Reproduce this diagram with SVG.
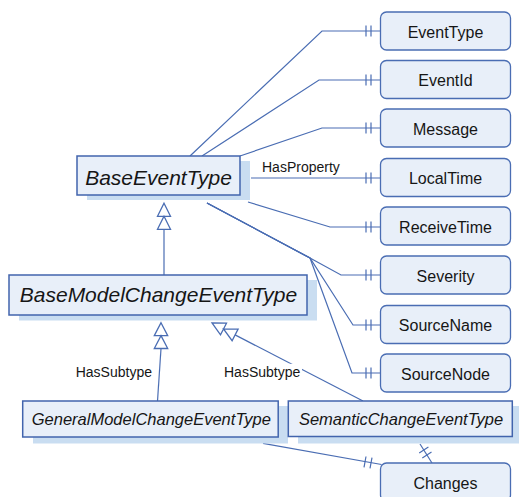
<svg xmlns="http://www.w3.org/2000/svg" width="519" height="497" viewBox="0 0 519 497">
<style>
.shadow{fill:#c9ddf1;stroke:none}
.type{fill:#e8eff9;stroke:#4264ad;stroke-width:1.5}
.prop{fill:#e8eff9;stroke:#4a6db3;stroke-width:1.3}
.t{font-family:"Liberation Sans",Arial,sans-serif;fill:#161616;text-anchor:middle}
.ti{font-style:italic}
.lbl{font-family:"Liberation Sans",Arial,sans-serif;font-size:14px;fill:#161616}
.c{fill:none;stroke:#4a6db3;stroke-width:1.2}
.gen{fill:#fff;stroke:#4a6db3;stroke-width:1.3}
</style>
<rect width="519" height="497" fill="#fff"/>
<g id="connectors">
  <polyline class="c" points="190,156 322,31 380,31"/>
  <polyline class="c" points="202,156 319,80 380,80"/>
  <polyline class="c" points="240,156 322,128 380,128"/>
  <polyline class="c" points="251,178 380,178"/>
  <polyline class="c" points="248,202 330,227 380,227"/>
  <polyline class="c" points="207,203 310,258 341,275 380,275"/>
  <polyline class="c" points="207,203 310,258 353,325 380,325"/>
  <polyline class="c" points="207,203 310,258 352,373 380,373"/>
  <path class="c" d="M366,25.5v11M371,25.5v11M366,74.5v11M371,74.5v11M366,122.5v11M371,122.5v11M366,172.5v11M371,172.5v11M366,221.5v11M371,221.5v11M366,269.5v11M371,269.5v11M366,319.5v11M371,319.5v11M366,367.5v11M371,367.5v11"/>
  <polyline class="c" points="263,443.3 381.5,464.5"/>
  <path class="c" d="M366,456.5L364,467.3M372,457.6L370,468.4"/>
  <polyline class="c" points="420,444 432,463"/>
  <path class="c" d="M419.2,452.9L428.4,447.1M422.3,457.9L431.5,452.1"/>
  <line class="c" x1="164" y1="229.3" x2="164" y2="275" stroke-width="1.6"/>
  <path class="gen" d="M164,203.3L170.5,216.3L157.5,216.3ZM164,216.3L170.5,229.3L157.5,229.3Z"/>
  <line class="c" x1="161" y1="348.5" x2="157.5" y2="401" stroke-width="1.5"/>
  <path class="gen" d="M161,322.7L167.7,335.6L154.3,335.6ZM161,335.6L167.7,348.5L154.3,348.5Z"/>
  <line class="c" x1="235.1" y1="334.9" x2="363" y2="401"/>
  <path class="gen" d="M212,323L226.5,323.2L220.5,334.8ZM223.5,329L238.1,329.1L232.1,340.7Z"/>
  <rect x="222" y="363.8" width="80" height="18" fill="#fff"/>
  <text class="lbl" x="262" y="172">HasProperty</text>
  <text class="lbl" x="224" y="377">HasSubtype</text>
  <text class="lbl" x="152" y="377" text-anchor="end">HasSubtype</text>
</g>
<g id="BaseEventType">
  <rect class="shadow" x="87" y="161" width="163" height="39"/>
  <rect class="type" x="77" y="156" width="163" height="39"/>
  <text class="t ti" x="158.5" y="185" font-size="21">BaseEventType</text>
</g>
<g id="BaseModelChangeEventType">
  <rect class="shadow" x="19" y="280" width="298" height="40.5"/>
  <rect class="type" x="9" y="275" width="298" height="40"/>
  <text class="t ti" x="158.5" y="302" font-size="21">BaseModelChangeEventType</text>
</g>
<g id="GeneralModelChangeEventType">
  <rect class="shadow" x="33" y="406" width="255" height="37.5"/>
  <rect class="type" x="22.7" y="401" width="255.5" height="36"/>
  <text class="t ti" x="151.3" y="424.5" font-size="16.5">GeneralModelChangeEventType</text>
</g>
<g id="SemanticChangeEventType">
  <rect class="shadow" x="298" y="406" width="224" height="37.5"/>
  <rect class="type" x="288.3" y="401" width="224" height="35.5"/>
  <text class="t ti" x="401" y="424.5" font-size="16.5">SemanticChangeEventType</text>
</g>
<g id="EventType"><rect class="prop" x="380.5" y="12" width="130" height="38" rx="6"/><text class="t" x="445.5" y="37.5" font-size="16">EventType</text></g>
<g id="EventId"><rect class="prop" x="380.5" y="60.5" width="130" height="38" rx="6"/><text class="t" x="445.5" y="86" font-size="16">EventId</text></g>
<g id="Message"><rect class="prop" x="380.5" y="109" width="130" height="38" rx="6"/><text class="t" x="445.5" y="134.5" font-size="16">Message</text></g>
<g id="LocalTime"><rect class="prop" x="380.5" y="158.5" width="130" height="38" rx="6"/><text class="t" x="445.5" y="184" font-size="16">LocalTime</text></g>
<g id="ReceiveTime"><rect class="prop" x="380.5" y="207" width="130" height="38" rx="6"/><text class="t" x="445.5" y="232.5" font-size="16">ReceiveTime</text></g>
<g id="Severity"><rect class="prop" x="380.5" y="256" width="130" height="38" rx="6"/><text class="t" x="445.5" y="281.5" font-size="16">Severity</text></g>
<g id="SourceName"><rect class="prop" x="380.5" y="305.5" width="130" height="38" rx="6"/><text class="t" x="445.5" y="331" font-size="16">SourceName</text></g>
<g id="SourceNode"><rect class="prop" x="380.5" y="354" width="130" height="38" rx="6"/><text class="t" x="445.5" y="379.5" font-size="16">SourceNode</text></g>
<g id="Changes"><rect class="prop" x="380.5" y="463" width="130" height="38" rx="6"/><text class="t" x="445.5" y="488.5" font-size="16">Changes</text></g>
</svg>
